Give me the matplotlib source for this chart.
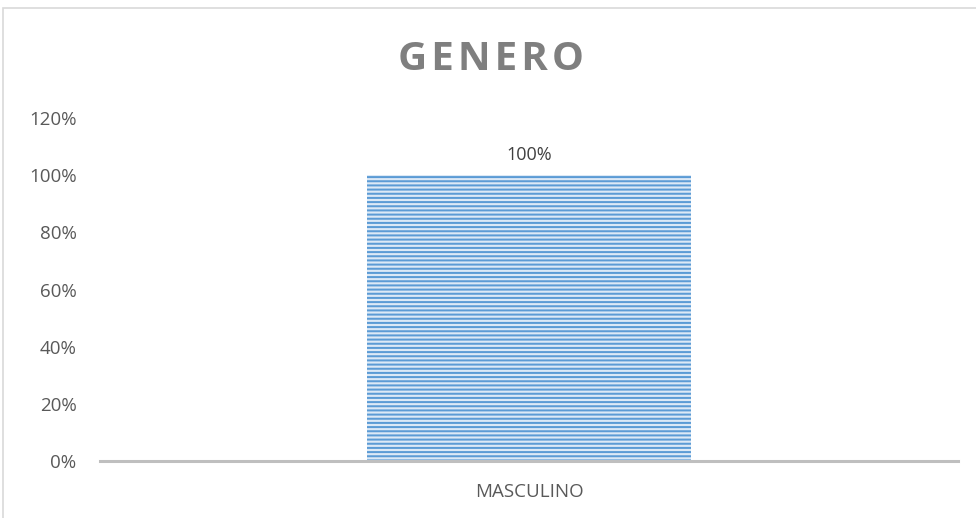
import matplotlib
matplotlib.use("Agg")
from matplotlib import pyplot as plt
from matplotlib.patches import Rectangle
from matplotlib.ticker import PercentFormatter

categories = ["MASCULINO"]
values = [1.0]
title = "GENERO"

plt.rcParams["font.family"] = ["Open Sans", "DejaVu Sans"]
plt.rcParams["hatch.linewidth"] = 1.45

fig = plt.figure(figsize=(9.76, 5.18), dpi=100)
ax = fig.add_axes([0.1025, 0.110, 0.879, 0.6622])

# chart border (cut by the image on the right and bottom)
fig.patches.append(
    Rectangle((3 / 976, -0.05), 1.2, 1.05 - 8 / 518, transform=fig.transFigure,
              fill=False, edgecolor="#D9D9D9", linewidth=1.2)
)

bars = ax.bar(categories, values, width=0.378, color="#DCE9F6",
              edgecolor="#5B9BD5", linewidth=0, hatch="----", zorder=2)
ax.bar_label(bars, labels=[f"{v:.0%}" for v in values], padding=8,
             fontsize=13, color="#404040")

ax.set_xlim(-0.5, 0.5)
ax.set_ylim(0, 1.2)
ax.set_yticks([0, 0.2, 0.4, 0.6, 0.8, 1.0, 1.2])
ax.yaxis.set_major_formatter(PercentFormatter(1.0, decimals=0))

for side in ["top", "right", "left"]:
    ax.spines[side].set_visible(False)
ax.spines["bottom"].set_color("#BFBFBF")
ax.spines["bottom"].set_linewidth(2.2)
ax.tick_params(axis="both", length=0, labelsize=13.5, labelcolor="#595959")
ax.tick_params(axis="y", pad=17)
ax.tick_params(axis="x", pad=16)

# letter-spaced title
fig.text(0.5035, 0.885, "\u200a".join(title), ha="center", va="center",
         fontsize=29, fontweight="bold", color="#7F7F7F")

fig.savefig("out.png", dpi=100)
